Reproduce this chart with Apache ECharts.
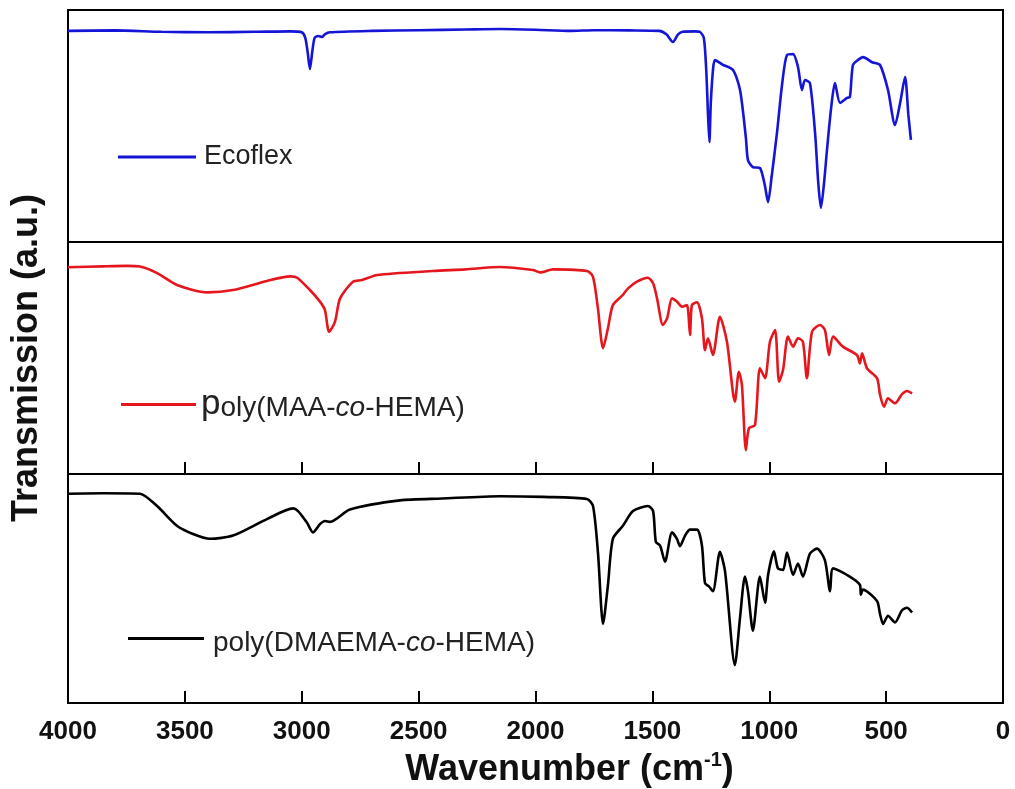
<!DOCTYPE html>
<html>
<head>
<meta charset="utf-8">
<script src="https://cdn.jsdelivr.net/npm/echarts@6/dist/echarts.min.js"></script>
<style>
html,body{margin:0;padding:0;background:#fff;}
#chart{width:1015px;height:789px;}
</style>
</head>
<body>
<div id="chart"></div>
<script>
// Tick labels of the wavenumber axis
var xTicks = [4000, 3500, 3000, 2500, 2000, 1500, 1000, 500, 0];
var seriesNames = ['Ecoflex', 'poly(MAA-co-HEMA)', 'poly(DMAEMA-co-HEMA)'];

// Ecoflex (wavenumber, transmission a.u.)
var ecoflexWn = [4000,3800,3600,3400,3200,3050,3000,2985,2975,2965,2955,2945,2930,2913,2900,2880,2700,2500,2300,2150,2000,1850,1750,1600,1470,1440,1412,1390,1370,1320,1296,1280,1270,1262,1256,1250,1240,1232,1200,1155,1125,1100,1091,1070,1040,1020,1005,990,967,945,924,898,877,860,847,826,804,790,779,766,753,735,719,697,667,655,642,620,599,560,526,492,462,440,419,405,394];
var ecoflexT  = [91,91.2,90.6,90.4,90.6,90.8,90.4,88,82,74.6,82,88,88.8,88.4,89.6,90.4,91,91.3,91.6,91.8,91.5,91,91.3,91.2,91,89.5,86.2,89.5,90.6,90.8,90.5,88,75,55,43.1,60,75,78.4,76.5,74.1,65.5,45,35.3,32.3,31.9,25,17.2,28,47,68,80.6,81,75.4,65.5,69.8,68.5,47,25,14.7,25,39.7,58,68.5,59.9,62.1,62.5,76.3,78.5,79.7,77.5,76.3,65.5,50.4,60,71.1,55,44];

// poly(MAA-co-HEMA)
var maaWn = [4000,3850,3748,3692,3619,3534,3405,3294,3149,3050,3020,2965,2922,2901,2883,2858,2836,2781,2742,2678,2439,2300,2152,2011,1981,1925,1780,1754,1733,1711,1690,1669,1626,1604,1566,1519,1497,1480,1455,1437,1416,1395,1373,1352,1339,1331,1309,1288,1275,1262,1241,1211,1181,1147,1130,1117,1100,1087,1061,1040,1018,997,975,958,941,920,898,877,856,839,817,783,762,744,727,685,625,612,603,582,539,526,509,492,462,432,411,389];
var maaT  = [89.1,89.5,89.7,89.4,86.6,81.5,78.3,79.3,83.2,85.2,84.6,79.3,74.3,70.7,61.3,65.6,75.7,82.9,83.6,85.8,87.5,88.2,89.2,87.9,86.9,88.2,87.5,85,71.4,54.2,62.8,72.8,77.2,80,82.9,84.6,82.2,75.7,64.2,67.1,75.7,74.3,72.1,72.8,59.9,72.8,74,67.1,53.4,58.5,51.3,67.8,57,31.2,44.1,38.4,10.3,19.7,21.1,45.6,41.3,57,62.1,39.8,44.8,59.2,54.9,58.5,57,41.3,61.3,64.2,62.1,51.3,59.2,54.9,51.3,47.7,52,45.6,41.3,34.1,29,32.6,30.5,34.4,35.8,34.8];

// poly(DMAEMA-co-HEMA)
var dmaWn = [4000,3850,3692,3619,3534,3465,3393,3294,3149,3037,3016,2978,2952,2922,2901,2879,2794,2580,2400,2152,1968,1780,1754,1733,1711,1690,1669,1626,1583,1519,1497,1485,1467,1446,1416,1395,1382,1360,1339,1309,1288,1275,1258,1241,1211,1189,1147,1125,1104,1091,1070,1040,1018,1005,980,963,941,924,898,877,856,826,796,762,740,727,667,612,608,599,539,526,513,492,462,432,411,389];
var dmaT  = [91.4,91.6,91.4,86,77.4,73.8,71.7,73.1,80.3,85,83.8,78.8,74.5,78.1,79.5,79.1,84.5,88.5,89.3,90.3,90,89.1,86,66,34.5,51.6,71.7,77.4,83.8,86,83.8,70.3,68.8,61.7,74.5,71.7,68.5,73.1,75.7,75.7,68.8,52.4,50.9,48.8,66,57.4,16.6,37.3,55.2,48.8,31.6,55.2,43.8,55.9,66.2,58.8,58.1,65.7,55.9,60.9,55.2,65.2,67.4,62.4,48.8,58.8,55.9,51.6,47.3,49.5,44.5,38.8,34.5,38.1,35.2,40.5,41.6,39.5];

function pairs(xs, ys){ return xs.map(function(x,i){ return [x, ys[i]]; }); }

var colors = ['#1515d8', '#e5161d', '#000000'];
var grids = [
  {left:68, width:935, top:10, height:232},
  {left:68, width:935, top:242, height:232},
  {left:68, width:935, top:474, height:232}
];

var chart = echarts.init(document.getElementById('chart'), null, {renderer:'canvas'});

function xAxisFor(i){
  return {
    gridIndex:i, type:'value', min:0, max:4000, interval:500, inverse:true,
    axisLine:{show:true, lineStyle:{color:'#000', width:2}},
    axisTick:{show:i>0, inside:true, length:12, lineStyle:{color:'#000', width:2}},
    axisLabel:{show:i===2, margin:16, color:'#111', fontSize:26, fontWeight:'bold', fontFamily:'Liberation Sans, Arial',
      formatter:function(v){ return xTicks.indexOf(v) >= 0 ? String(v) : ''; }},
    splitLine:{show:false},
    name: i===2 ? '{a|Wavenumber (cm}{s|-1}{a|)}' : '',
    nameLocation:'middle', nameGap:47,
    nameTextStyle:{padding:[0,0,0,68], rich:{
      a:{fontSize:36, fontWeight:'bold', fontFamily:'Liberation Sans, Arial', color:'#111', lineHeight:40},
      s:{fontSize:20, fontWeight:'bold', fontFamily:'Liberation Sans, Arial', color:'#111', verticalAlign:'top', lineHeight:40}
    }}
  };
}
function yAxisFor(i){
  return {
    gridIndex:i, type:'value', min:0, max:100,
    axisLine:{show:true, lineStyle:{color:'#000', width:2}},
    axisTick:{show:false}, axisLabel:{show:false}, splitLine:{show:false},
    name: i===1 ? 'Transmission (a.u.)' : '',
    nameLocation:'middle', nameRotate:90, nameGap:23,
    nameTextStyle:{fontSize:36, fontWeight:'bold', fontFamily:'Liberation Sans, Arial', color:'#111'}
  };
}

var legendText = {color:'#222', fontSize:27, fontFamily:'Liberation Sans, Arial', lineHeight:30};

var option = {
  backgroundColor:'#fff',
  animation:false,
  grid: grids.map(function(g){ return Object.assign({show:true, borderColor:'#000', borderWidth:2, backgroundColor:'transparent', containLabel:false}, g); }),
  xAxis:[xAxisFor(0), xAxisFor(1), xAxisFor(2)],
  yAxis:[yAxisFor(0), yAxisFor(1), yAxisFor(2)],
  legend:[
    {data:[seriesNames[0]], left:118, top:142, padding:0, itemWidth:78, itemHeight:3, icon:'rect',
     textStyle:Object.assign({}, legendText, {padding:[0,0,0,3]})},
    {data:[seriesNames[1]], left:121, top:387, padding:0, itemWidth:75, itemHeight:3, icon:'rect',
     formatter:function(){ return '{p|p}{n|oly(MAA-}{i|co}{n|-HEMA)}'; },
     textStyle:{rich:{
       p:{fontSize:35, color:'#222', fontFamily:'Liberation Sans, Arial', lineHeight:34},
       n:{fontSize:28, color:'#222', fontFamily:'Liberation Sans, Arial', lineHeight:34, padding:[7,0,0,0]},
       i:{fontSize:28, color:'#222', fontFamily:'Liberation Sans, Arial', fontStyle:'italic', lineHeight:34, padding:[7,0,0,0]}
     }}},
    {data:[seriesNames[2]], left:128, top:620, padding:0, itemWidth:76, itemHeight:3, icon:'rect',
     formatter:function(){ return '{n|poly(DMAEMA-}{i|co}{n|-HEMA)}'; },
     textStyle:{padding:[0,0,0,4], rich:{
       n:{fontSize:28, color:'#222', fontFamily:'Liberation Sans, Arial', lineHeight:30, padding:[9,0,0,0]},
       i:{fontSize:28, color:'#222', fontFamily:'Liberation Sans, Arial', fontStyle:'italic', lineHeight:30, padding:[9,0,0,0]}
     }}}
  ],
  series:[
    {name:seriesNames[0], type:'line', xAxisIndex:0, yAxisIndex:0, data:pairs(ecoflexWn, ecoflexT),
     showSymbol:false, smooth:0.25, lineStyle:{color:colors[0], width:2.6}, itemStyle:{color:colors[0]}},
    {name:seriesNames[1], type:'line', xAxisIndex:1, yAxisIndex:1, data:pairs(maaWn, maaT),
     showSymbol:false, smooth:0.25, lineStyle:{color:colors[1], width:2.6}, itemStyle:{color:colors[1]}},
    {name:seriesNames[2], type:'line', xAxisIndex:2, yAxisIndex:2, data:pairs(dmaWn, dmaT),
     showSymbol:false, smooth:0.25, lineStyle:{color:colors[2], width:2.6}, itemStyle:{color:colors[2]}}
  ]
};
chart.setOption(option);
</script>
</body>
</html>
